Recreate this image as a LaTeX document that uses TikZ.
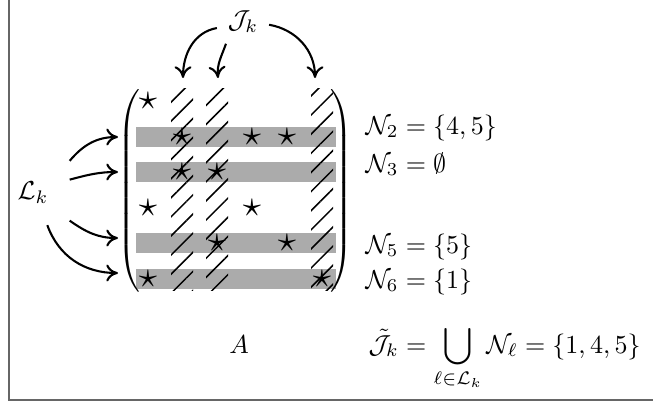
\documentclass[tikz,border=0pt]{standalone}
\usepackage{amsmath,amssymb}
\usetikzlibrary{arrows.meta, patterns.meta}

\begin{document}
\begin{tikzpicture}[x=0.3846pt, y=0.3846pt,
    band/.style={fill=black!33},
    hatchcol/.style={pattern={Lines[angle=45, distance=5.2pt, line width=0.6pt]}},
    arr/.style={-{To[length=4.5pt, width=6.5pt]}, thick},
    frameline/.style={black!60, line width=0.8pt},
    lbl/.style={inner sep=0pt},
  ]
  \useasboundingbox (0,0) rectangle (653,407);
  % frame
  \draw[frameline] (9,420) -- (9,7) -- (660,7);

  % rows of N_l
  \foreach \y in {270,235,164,128}
    \fill[band] (136,\y-10) rectangle (336,\y+10);
  % nonzeros
  \foreach \c/\r [count=\i] in {148/306, 182/270, 252/270, 287/270, 182/235, 217/235,
                               148/199, 252/199, 217/164, 287/164, 148/128, 322/128}
    \node[lbl] (s\i) at (\c,\r) {\scalebox{1.4}{$\star$}};
  % columns in J_k
  \foreach \c in {182,217,322}
    \fill[hatchcol] (\c-11,117) rectangle (\c+11,319);

  \node[lbl] (lpar) at (130,214) {$\left(\vrule height 38.5pt depth 38.5pt width 0pt\right.$};
  \node[lbl] (rpar) at (340,214) {$\left.\vrule height 38.5pt depth 38.5pt width 0pt\right)$};

  \coordinate (c2) at (183,329);
  \coordinate (c3) at (218,329);
  \coordinate (c6) at (315,329);
  \coordinate (r2) at (118,270);
  \coordinate (r3) at (118,235);
  \coordinate (r5) at (118,169);
  \coordinate (r6) at (118,134);

  \node[inner sep=4pt] (Jk) at (243,385) {$\mathcal{J}_k$};
  \node[inner sep=8pt] (Lk) at (33,214) {$\mathcal{L}_k$};

  \draw[arr] (Jk.193) to[out=190, in=90] (c2);
  \draw[arr] (Jk.232) to[out=250, in=95] (c3);
  \draw[arr] (Jk.-6)  to[out=-10, in=90] (c6);
  \draw[arr] (Lk.north east) to[out=50, in=180] (r2);
  \draw[arr] (Lk.20)  to[out=15, in=180] (r3);
  \draw[arr] (Lk.-37) to[out=-35, in=180] (r5);
  \draw[arr] (Lk.-66) to[out=-70, in=180] (r6);

  \node[lbl, anchor=base west] (n2) at (365,273) {$\mathcal{N}_2 = \{4,5\}$};
  \node[lbl, anchor=base west] (n3) at (365,235) {$\mathcal{N}_3 = \emptyset$};
  \node[lbl, anchor=base west] (n5) at (365,154) {$\mathcal{N}_5 = \{5\}$};
  \node[lbl, anchor=base west] (n6) at (365,119) {$\mathcal{N}_6 = \{1\}$};

  \node[lbl, anchor=base] (A) at (239,54) {$A$};
  \node[lbl, anchor=base west] (Jt) at (368,54)
    {$\displaystyle\tilde{\mathcal{J}}_k = \bigcup_{\ell\in\mathcal{L}_k}\mathcal{N}_\ell = \{1,4,5\}$};
\end{tikzpicture}
\end{document}
